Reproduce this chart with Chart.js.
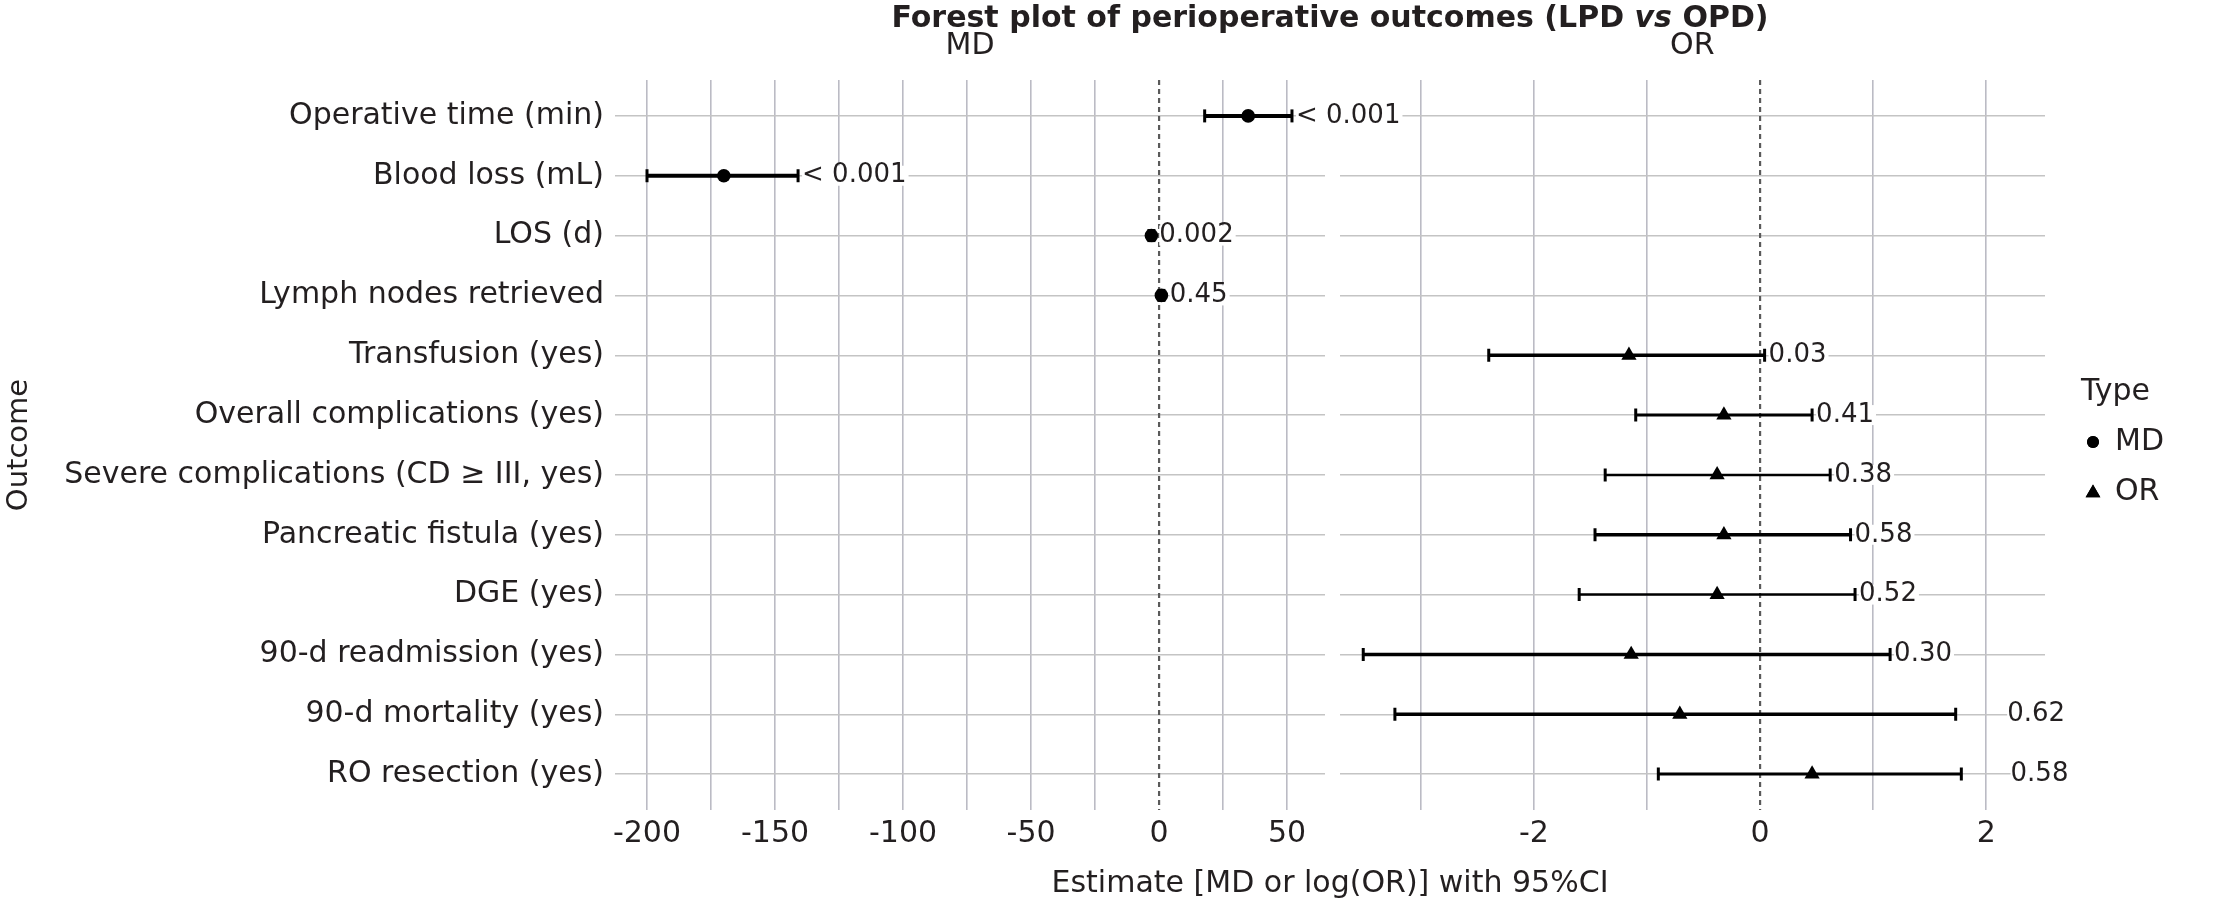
<!DOCTYPE html>
<html>
<head>
<meta charset="utf-8">
<script src="https://cdn.jsdelivr.net/npm/chart.js@4.4.1/dist/chart.umd.min.js"></script>
<style>
  html, body { margin: 0; padding: 0; background: #fff; }
  #wrap { position: relative; width: 2217px; height: 904px; overflow: hidden; font-family: "DejaVu Sans", sans-serif; color: #231f20; }
  canvas { position: absolute; top: 0; }
  #cMD { left: 0; z-index: 2; }
  #cOR { left: 1330px; z-index: 1; }
  .txt { position: absolute; white-space: nowrap; line-height: 1; transform: translateX(-50%); z-index: 3; }
  #title { left: 1330px; top: 2px; font-size: 30px; font-weight: bold; }
  #xtitle { left: 1330px; top: 867px; font-size: 30px; }
</style>
</head>
<body>
<div id="wrap">
  <div id="title" class="txt">Forest plot of perioperative outcomes (LPD <i>vs</i> OPD)</div>
  <canvas id="cMD" width="1500" height="904"></canvas>
  <canvas id="cOR" width="887" height="904"></canvas>
  <div id="xtitle" class="txt">Estimate [MD or log(OR)] with 95%CI</div>
</div>
<script>
// 手術期結果森林圖：左 MD 面板、右 OR(log) 面板，共用結果列。
const outcomes = ['Operative time (min)', 'Blood loss (mL)', 'LOS (d)', 'Lymph nodes retrieved',
  'Transfusion (yes)', 'Overall complications (yes)', 'Severe complications (CD ≥ III, yes)',
  'Pancreatic fistula (yes)', 'DGE (yes)', '90-d readmission (yes)', '90-d mortality (yes)', 'RO resection (yes)'];
const types = ['MD', 'MD', 'MD', 'MD', 'OR', 'OR', 'OR', 'OR', 'OR', 'OR', 'OR', 'OR'];
const estimate = [34.8, -170, -3.0, 0.9, -1.16, -0.32, -0.38, -0.32, -0.38, -1.14, -0.71, 0.46];
const ciLow = [17.8, -200, -4.0, -0.1, -2.40, -1.10, -1.37, -1.46, -1.60, -3.51, -3.23, -0.90];
const ciHigh = [51.9, -141, -2.0, 1.9, 0.04, 0.46, 0.62, 0.80, 0.84, 1.15, 1.73, 1.78];
const pValues = ['< 0.001', '< 0.001', '0.002', '0.45', '0.03', '0.41', '0.38', '0.58', '0.52', '0.30', '0.62', '0.58'];
// p 值標籤錨點（資料單位）
const pLabelAt = [51.9, -141, -1.5, 2.6, 0.04, 0.46, 0.62, 0.80, 0.84, 1.15, 2.15, 2.18];

const mdRange = [-212.5, 64.8];
const mdGridTicks = [-200, -175, -150, -125, -100, -75, -50, -25, 0, 25, 50];
const mdTickLabels = [-200, -150, -100, -50, 0, 50];
const orRange = [-3.72, 2.52];
const orGridTicks = [-3, -2, -1, 0, 1, 2];
const orTickLabels = [-2, 0, 2];

// 各列 CI 線粗細（僅樣式）
const ciWidths = [4, 4, 3, 3, 3.5, 3, 2.5, 3.5, 2.5, 3.5, 3.5, 3];

const INK = '#231f20';
const FONT = '"DejaVu Sans", sans-serif';
Chart.defaults.font.family = FONT;
Chart.defaults.color = INK;

const rowIndex = outcomes.map((_, i) => i + 1);

const panelText = {
  id: 'panelText',
  afterDatasetsDraw(chart, args, o) {
    const { ctx, chartArea, scales: { x, y } } = chart;
    ctx.save();
    ctx.fillStyle = INK;
    ctx.font = `30px ${FONT}`;
    ctx.textAlign = 'center';
    ctx.textBaseline = 'middle';
    ctx.fillText(o.strip, (chartArea.left + chartArea.right) / 2, chartArea.top - 34);
    ctx.font = `26px ${FONT}`;
    ctx.textAlign = 'left';
    o.rows.forEach((r) => {
      const tx = x.getPixelForValue(pLabelAt[r - 1]) + 4;
      const ty = y.getPixelForValue(r);
      const w = ctx.measureText(pValues[r - 1]).width;
      ctx.fillStyle = '#fff';
      ctx.fillRect(tx, ty - 10, w + 2, 20);
      ctx.fillStyle = INK;
      ctx.fillText(pValues[r - 1], tx, ty);
    });
    ctx.restore();
  },
};

const typeLegend = {
  id: 'typeLegend',
  afterDraw(chart, args, o) {
    if (!o.show) return;
    const { ctx, chartArea } = chart;
    const x0 = chartArea.right + 36;
    ctx.save();
    ctx.fillStyle = INK;
    ctx.font = `30px ${FONT}`;
    ctx.textAlign = 'left';
    ctx.textBaseline = 'middle';
    ctx.fillText('Type', x0, 392);
    ctx.fillText('MD', x0 + 34, 442);
    ctx.fillText('OR', x0 + 34, 492);
    ctx.fillStyle = '#000';
    Chart.helpers.drawPoint(ctx, { pointStyle: 'circle', radius: 6, rotation: 0, borderWidth: 0 }, x0 + 12, 442);
    ctx.fill();
    Chart.helpers.drawPoint(ctx, { pointStyle: 'triangle', radius: 8.5, rotation: 0, borderWidth: 0 }, x0 + 12, 493);
    ctx.fill();
    ctx.restore();
  },
};

function panelConfig(type, range, gridTicks, tickLabels, isLeft) {
  const rows = rowIndex.filter((r) => types[r - 1] === type);
  const ci = [];
  rows.forEach((r) => ci.push({ x: ciLow[r - 1], y: r }, { x: ciHigh[r - 1], y: r }, { x: null, y: null }));
  const pts = rows.map((r) => ({ x: estimate[r - 1], y: r }));
  return {
    type: 'scatter',
    data: {
      datasets: [
        { data: pts, pointStyle: type === 'MD' ? 'circle' : 'triangle', pointRadius: type === 'MD' ? 6.8 : 8.8,
          backgroundColor: '#000', borderWidth: 0, pointHoverRadius: 0 },
        { data: ci, showLine: true, spanGaps: false, borderColor: '#000', borderWidth: 3,
          segment: { borderWidth: (c) => ciWidths[rows[Math.floor(c.p0DataIndex / 3)] - 1] },
          pointStyle: 'line', rotation: 90, pointRadius: 6.5, pointBorderWidth: 3, pointBorderColor: '#000' },
        { data: [{ x: 0, y: 0.4 }, { x: 0, y: 12.6 }], showLine: true, borderColor: '#5a5a5a',
          borderWidth: 2.2, borderDash: [5, 4], pointRadius: 0 },
      ],
    },
    options: {
      responsive: false, animation: false, events: [],
      layout: { padding: { left: isLeft ? 0 : 5, right: isLeft ? 175 : 172, top: 80, bottom: 0 } },
      plugins: {
        legend: { display: false }, tooltip: { enabled: false },
        panelText: { strip: type, rows },
        typeLegend: { show: !isLeft },
      },
      scales: {
        x: {
          type: 'linear', min: range[0], max: range[1],
          afterBuildTicks: (s) => { s.ticks = gridTicks.map((v) => ({ value: v })); },
          afterFit: (s) => { s.height = 94; },
          ticks: { autoSkip: false, maxRotation: 0, padding: 6, font: { size: 30 }, color: INK,
            callback: (v) => (tickLabels.includes(v) ? String(v) : '') },
          grid: { drawTicks: false, lineWidth: 1.6,
            color: (c) => (c.tick && c.tick.value === 0 ? 'rgba(0,0,0,0)' : '#bbbbc4') },
          border: { display: false },
        },
        y: {
          type: 'linear', reverse: true, min: 0.4, max: 12.6,
          afterBuildTicks: (s) => { s.ticks = rowIndex.map((v) => ({ value: v })); },
          afterFit: (s) => { s.width = isLeft ? 615 : 0; },
          ticks: { display: isLeft, autoSkip: false, padding: 11, font: { size: 30 }, color: INK,
            callback: (v) => outcomes[v - 1] },
          grid: { drawTicks: false, lineWidth: 1.4, color: '#c4c4c4' },
          border: { display: false },
          title: { display: isLeft, text: 'Outcome', font: { size: 29 }, color: INK, padding: { top: 2 } },
        },
      },
    },
    plugins: [panelText, typeLegend],
  };
}

new Chart(document.getElementById('cMD'), panelConfig('MD', mdRange, mdGridTicks, mdTickLabels, true));
new Chart(document.getElementById('cOR'), panelConfig('OR', orRange, orGridTicks, orTickLabels, false));
</script>
</body>
</html>
